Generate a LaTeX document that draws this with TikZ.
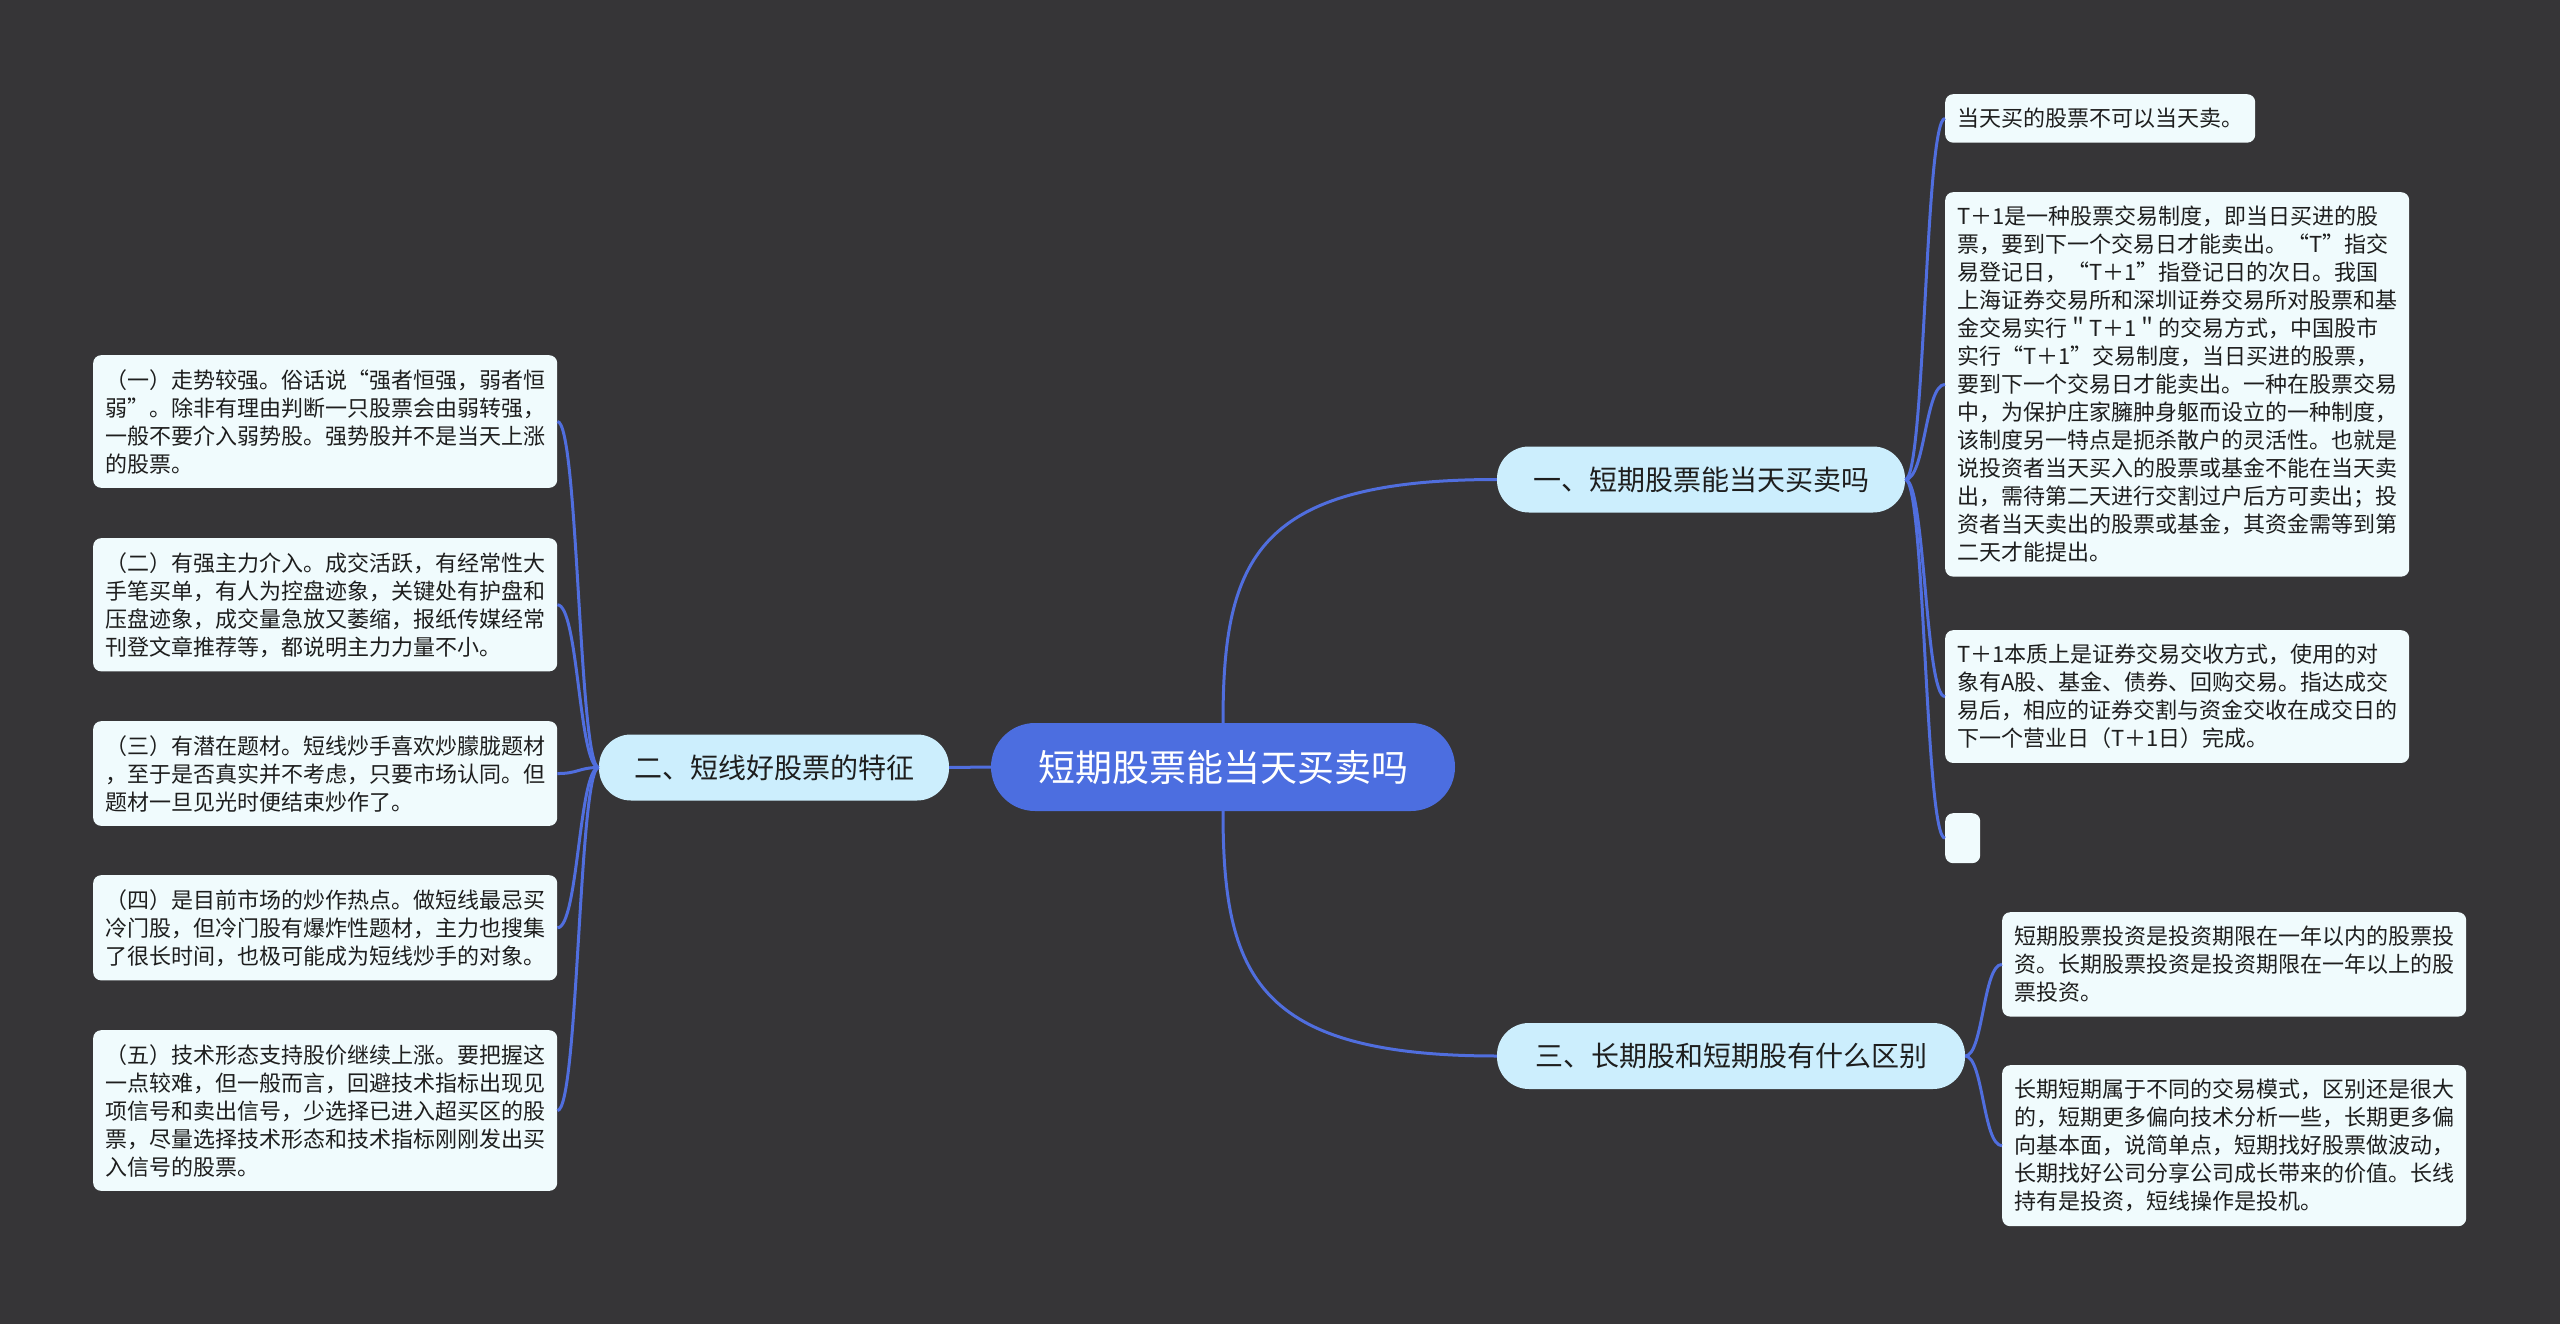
\documentclass[tikz,border=0pt]{standalone}
\usepackage{fontspec}
\setmainfont{Noto Sans CJK SC}
\usetikzlibrary{calc}
\definecolor{bgc}{RGB}{54,53,55}
\definecolor{linkc}{RGB}{80,110,222}
\definecolor{rootfill}{RGB}{76,110,224}
\definecolor{branchfill}{RGB}{204,238,253}
\definecolor{leaffill}{RGB}{240,251,253}
\definecolor{ink}{RGB}{30,30,30}
\begin{document}
\begin{tikzpicture}[x=1pt,y=-1pt,
  rootnode/.style={fill=rootfill, rounded corners=44pt, minimum width=464pt, minimum height=88pt, text=white, font=\fontsize{37}{44}\selectfont, inner sep=0pt},
  branchnode/.style={fill=branchfill, rounded corners=32pt, minimum height=66pt, text=ink, font=\fontsize{28}{34}\selectfont, inner sep=0pt},
  leafbase/.style={fill=leaffill, rounded corners=8pt, align=left, inner xsep=12pt, inner ysep=14pt, text=ink, font=\fontsize{22}{28}\selectfont, anchor=north west},
  leafnode/.style={leafbase, text width=440pt},
  conn/.style={draw=linkc, line width=3pt}
]
\fill[bgc] (0,0) rectangle (2560,1324);
\useasboundingbox (0,0) rectangle (2560,1324);

% root and branches
\node[rootnode] (root) at (1223,767) {短期股票能当天买卖吗};
\node[branchnode, minimum width=350pt] (b2) at (774,767.5) {二、短线好股票的特征};
\node[branchnode, minimum width=408pt] (b1) at (1701,479.5) {一、短期股票能当天买卖吗};
\node[branchnode, minimum width=468pt] (b3) at (1731,1056) {三、长期股和短期股有什么区别};

% branch 1 leaves
\node[leafbase] (l1a) at (1945,94) {当天买的股票不可以当天卖。};
\node[leafnode] (l1b) at (1945,192) {T＋1是一种股票交易制度，即当日买进的股\\
票，要到下一个交易日才能卖出。“T”指交\\
易登记日，“T＋1”指登记日的次日。我国\\
上海证券交易所和深圳证券交易所对股票和基\\
金交易实行＂T＋1＂的交易方式，中国股市\\
实行“T＋1”交易制度，当日买进的股票，\\
要到下一个交易日才能卖出。一种在股票交易\\
中，为保护庄家臃肿身躯而设立的一种制度，\\
该制度另一特点是扼杀散户的灵活性。也就是\\
说投资者当天买入的股票或基金不能在当天卖\\
出，需待第二天进行交割过户后方可卖出；投\\
资者当天卖出的股票或基金，其资金需等到第\\
二天才能提出。};
\node[leafnode] (l1c) at (1945,630) {T＋1本质上是证券交易交收方式，使用的对\\
象有A股、基金、债券、回购交易。指达成交\\
易后，相应的证券交割与资金交收在成交日的\\
下一个营业日（T＋1日）完成。};
\node[fill=leaffill, rounded corners=8pt, minimum width=35pt, minimum height=50pt, inner sep=0pt, anchor=north west] (l1d) at (1945,813) {};

% branch 3 leaves
\node[leafnode] (l3a) at (2002,912) {短期股票投资是投资期限在一年以内的股票投\\
资。长期股票投资是投资期限在一年以上的股\\
票投资。};
\node[leafnode] (l3b) at (2002,1065) {长期短期属于不同的交易模式，区别还是很大\\
的，短期更多偏向技术分析一些，长期更多偏\\
向基本面，说简单点，短期找好股票做波动，\\
长期找好公司分享公司成长带来的价值。长线\\
持有是投资，短线操作是投机。};

% branch 2 leaves
\node[leafnode] (l2a) at (93,355) {（一）走势较强。俗话说“强者恒强，弱者恒\\
弱”。除非有理由判断一只股票会由弱转强，\\
一般不要介入弱势股。强势股并不是当天上涨\\
的股票。};
\node[leafnode] (l2b) at (93,538) {（二）有强主力介入。成交活跃，有经常性大\\
手笔买单，有人为控盘迹象，关键处有护盘和\\
压盘迹象，成交量急放又萎缩，报纸传媒经常\\
刊登文章推荐等，都说明主力力量不小。};
\node[leafnode] (l2c) at (93,721) {（三）有潜在题材。短线炒手喜欢炒朦胧题材\\
，至于是否真实并不考虑，只要市场认同。但\\
题材一旦见光时便结束炒作了。};
\node[leafnode] (l2d) at (93,875) {（四）是目前市场的炒作热点。做短线最忌买\\
冷门股，但冷门股有爆炸性题材，主力也搜集\\
了很长时间，也极可能成为短线炒手的对象。};
\node[leafnode] (l2e) at (93,1030) {（五）技术形态支持股价继续上涨。要把握这\\
一点较难，但一般而言，回避技术指标出现见\\
项信号和卖出信号，少选择已进入超买区的股\\
票，尽量选择技术形态和技术指标刚刚发出买\\
入信号的股票。};

% connectors root
\draw[conn] (root.west) -- (b2.east);
\draw[conn] (root.north) .. controls ($(root.north)+(0,-165)$) and ($(b1.west)+(-240,0)$) .. (b1.west);
\draw[conn] (root.south) .. controls ($(root.south)+(0,165)$) and ($(b3.west)+(-240,0)$) .. (b3.west);

% branch 1 connectors
\foreach \n in {l1a,l1b,l1c,l1d}
  \draw[conn] (b1.east) .. controls ($(b1.east)+(20,0)$) and ($(\n.west)+(-20,0)$) .. (\n.west);
% branch 3 connectors
\foreach \n in {l3a,l3b}
  \draw[conn] (b3.east) .. controls ($(b3.east)+(18,0)$) and ($(\n.west)+(-19,0)$) .. (\n.west);
% branch 2 connectors
\foreach \n in {l2a,l2b,l2c,l2d,l2e}
  \draw[conn] (b2.west) .. controls ($(b2.west)+(-20,0)$) and ($(\n.east)+(21,0)$) .. (\n.east);
\end{tikzpicture}
\end{document}
